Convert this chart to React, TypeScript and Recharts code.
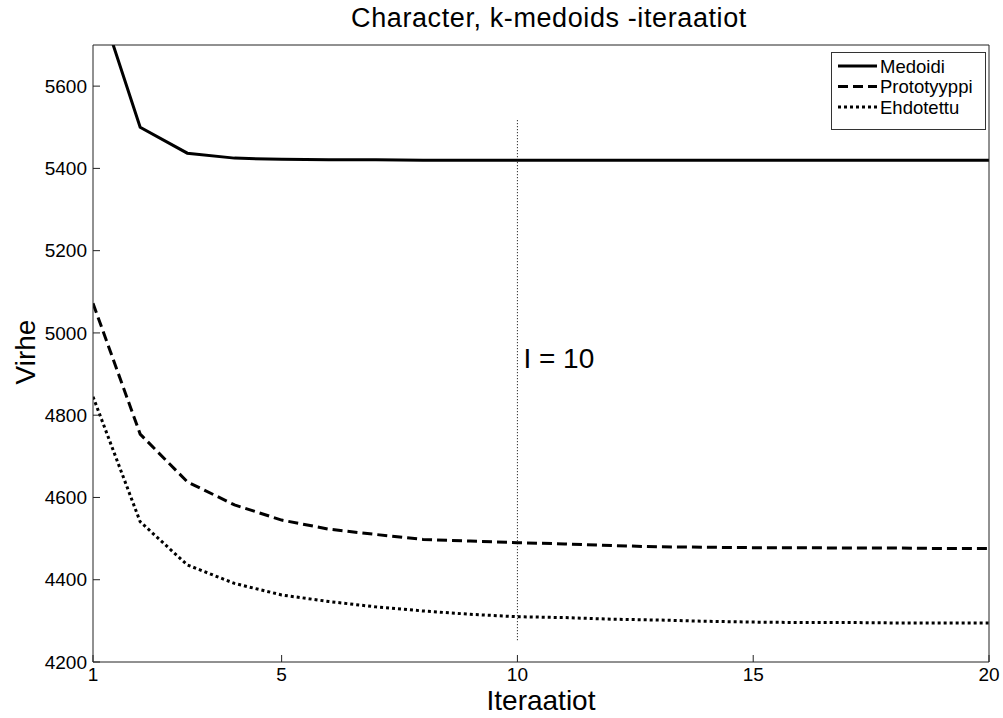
import React from 'react';
import { LineChart, Line, XAxis, YAxis, ReferenceLine, ReferenceDot } from 'recharts';

const iterations = [1, 2, 3, 4, 5, 6, 7, 8, 9, 10, 11, 12, 13, 14, 15, 16, 17, 18, 19, 20];
const medoidi = [5850, 5500, 5437, 5425, 5422, 5421, 5421, 5420, 5420, 5420, 5420, 5420, 5420, 5420, 5420, 5420, 5420, 5420, 5420, 5420];
const prototyyppi = [5072, 4754, 4638, 4582, 4545, 4523, 4510, 4498, 4494, 4490, 4487, 4483, 4480, 4479, 4478, 4478, 4477, 4477, 4476, 4476];
const ehdotettu = [4845, 4541, 4436, 4391, 4363, 4347, 4334, 4324, 4316, 4310, 4308, 4304, 4302, 4299, 4297, 4296, 4296, 4295, 4295, 4295];

const xTicks = [1, 5, 10, 15, 20];
const yTicks = [4200, 4400, 4600, 4800, 5000, 5200, 5400, 5600];
const xDomain = [1, 20];
const yDomain = [4200, 5700];
const markerX = 10;
const markerSpan = [4253, 5518];
const markerLabelY = 4939;

const seriesNames = ['Medoidi', 'Prototyyppi', 'Ehdotettu'];
const seriesDash = ['', '10 5', '3 3'];

const data = iterations.map((it, i) => ({
  it,
  medoidi: medoidi[i],
  prototyyppi: prototyyppi[i],
  ehdotettu: ehdotettu[i],
}));

const FONT = '"Liberation Sans", Arial, sans-serif';

const LegendBox = () => (
  <div style={{ position: 'absolute', left: 831, top: 52, width: 155, height: 78, border: '1px solid #333', background: '#fff', boxSizing: 'border-box' }}>
    <svg width={153} height={76} style={{ display: 'block' }}>
      {seriesNames.map((n, i) => (
        <g key={n}>
          <line x1={6} x2={45} y1={13 + i * 20.5} y2={13 + i * 20.5} stroke="#000" strokeWidth={3} strokeDasharray={seriesDash[i] || undefined} />
          <text x={48} y={13 + i * 20.5} dominantBaseline="central" fontSize={18.5} fontFamily={FONT} fill="#000">{n}</text>
        </g>
      ))}
    </svg>
  </div>
);

export default function App() {
  return (
    <div style={{ position: 'absolute', left: 0, top: 0, width: 1003, height: 718, background: '#fff', fontFamily: FONT }}>
      <LineChart width={1003} height={718} data={data} margin={{ top: 44, right: 13, bottom: 0, left: 0 }}>
        <XAxis dataKey="it" type="number" domain={xDomain} ticks={xTicks} allowDataOverflow
          height={56} stroke="#222" tickSize={-7} tickMargin={13}
          tick={{ fill: '#000', fontSize: 19, fontFamily: FONT }}
          label={{ value: 'Iteraatiot', position: 'insideBottom', offset: 8, fill: '#000', fontSize: 28, fontFamily: FONT }} />
        <XAxis xAxisId="top" orientation="top" dataKey="it" type="number" domain={xDomain} ticks={xTicks} allowDataOverflow
          height={1} stroke="#222" tickSize={-7} tick={false} />
        <YAxis type="number" domain={yDomain} ticks={yTicks} allowDataOverflow width={93}
          stroke="#222" tickSize={-7} tickMargin={13}
          tick={{ fill: '#000', fontSize: 19, fontFamily: FONT }} />
        <YAxis yAxisId="right" orientation="right" type="number" domain={yDomain} ticks={yTicks} allowDataOverflow width={1}
          stroke="#222" tickSize={-7} tick={false} />
        <ReferenceLine segment={[{ x: markerX, y: markerSpan[0] }, { x: markerX, y: markerSpan[1] }]} stroke="#000" strokeWidth={1} strokeDasharray="1 2" />
        <ReferenceDot x={markerX} y={markerLabelY} r={0} fill="none" stroke="none"
          label={{ value: 'I = 10', position: 'right', offset: 6, fill: '#000', fontSize: 28, fontFamily: FONT }} />
        <Line dataKey="medoidi" name={seriesNames[0]} stroke="#000" strokeWidth={3} dot={false} isAnimationActive={false} />
        <Line dataKey="prototyyppi" name={seriesNames[1]} stroke="#000" strokeWidth={3} strokeDasharray={seriesDash[1]} dot={false} isAnimationActive={false} />
        <Line dataKey="ehdotettu" name={seriesNames[2]} stroke="#000" strokeWidth={3} strokeDasharray={seriesDash[2]} dot={false} isAnimationActive={false} />
        <Line xAxisId="top" yAxisId="right" dataKey="medoidi" stroke="none" strokeWidth={0} dot={false} activeDot={false} legendType="none" isAnimationActive={false} />
      </LineChart>
      <svg width={1003} height={718} style={{ position: 'absolute', left: 0, top: 0, pointerEvents: 'none' }}>
        <text x={549} y={18} textAnchor="middle" dominantBaseline="central" fontSize={27} letterSpacing={0.6} fontFamily={FONT} fill="#000">
          Character, k-medoids -iteraatiot
        </text>
        <text x={25} y={352} transform="rotate(-90 25 352)" textAnchor="middle" dominantBaseline="central" fontSize={28} fontFamily={FONT} fill="#000">
          Virhe
        </text>
      </svg>
      <LegendBox />
    </div>
  );
}
